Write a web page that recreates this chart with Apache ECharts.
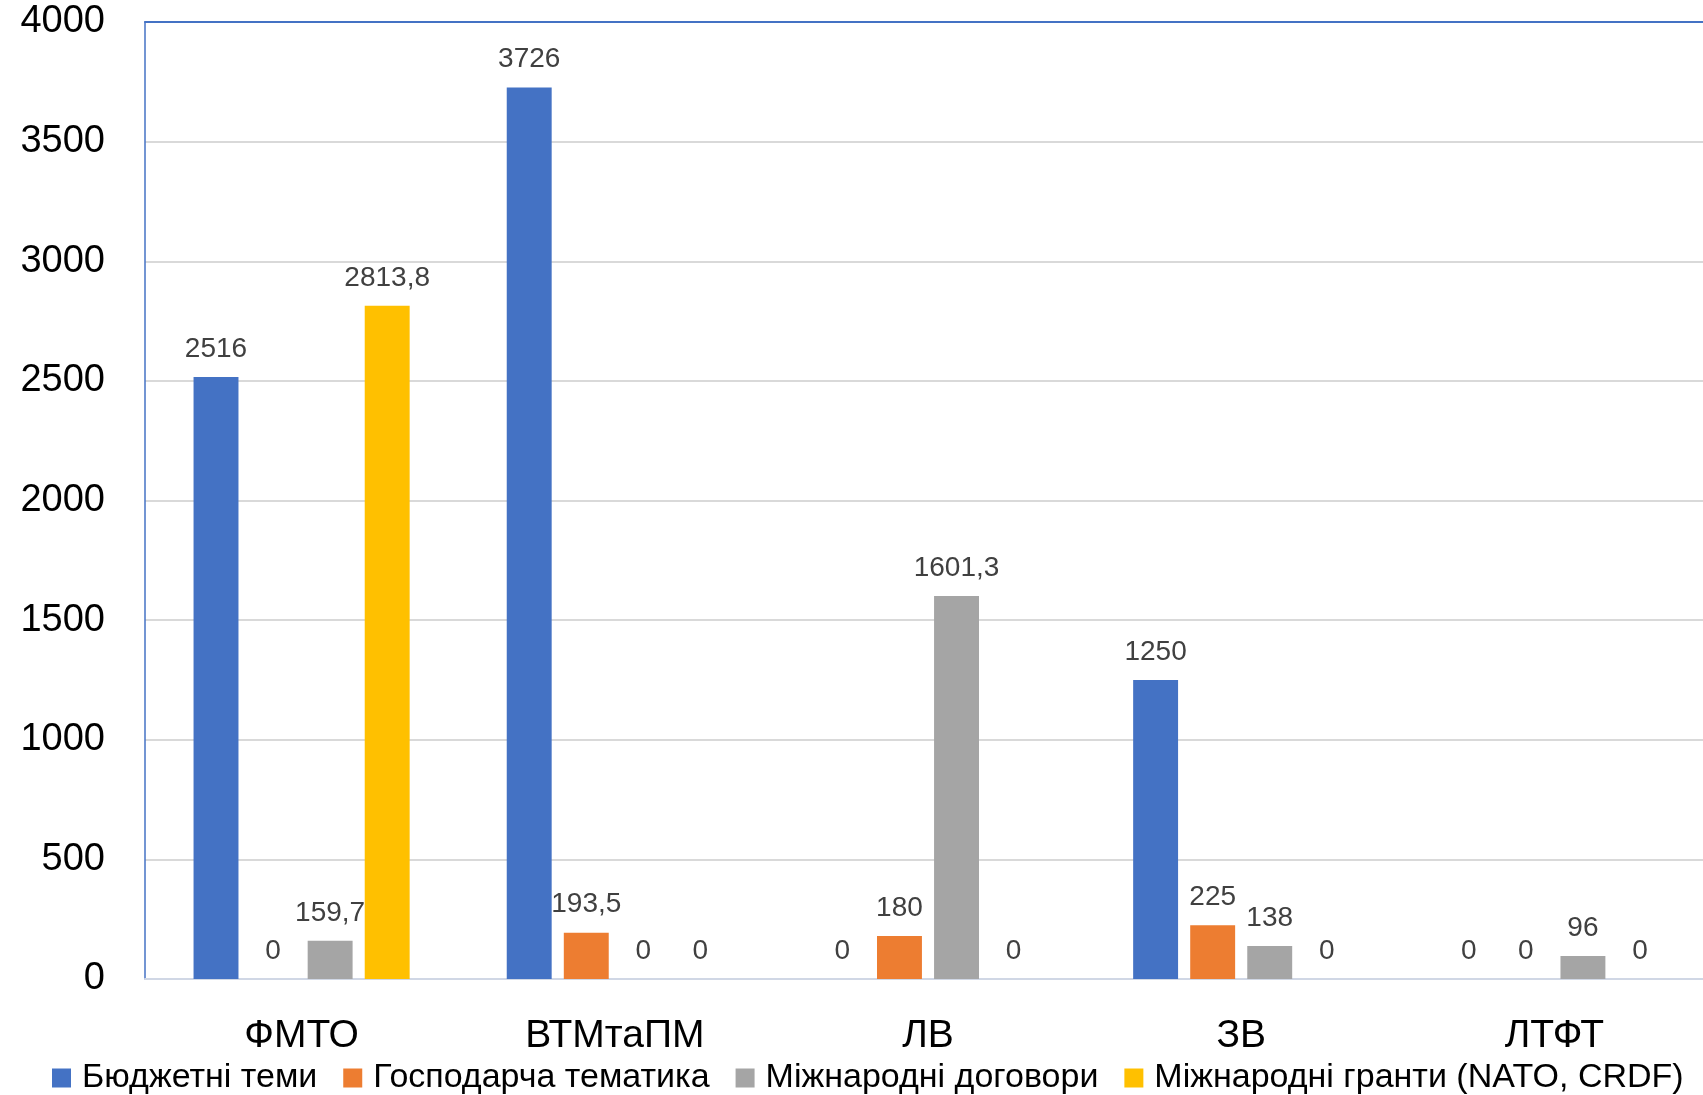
<!DOCTYPE html>
<html>
<head>
<meta charset="utf-8">
<script src="https://cdn.jsdelivr.net/npm/echarts@6/dist/echarts.min.js"></script>
<style>
html,body{margin:0;padding:0;background:#fff;overflow:hidden;}
#chart{width:1711px;height:1095px;}
</style>
</head>
<body>
<div id="chart"></div>
<script>
const categories = ['ФМТО', 'ВТМтаПМ', 'ЛВ', 'ЗВ', 'ЛТФТ'];
const seriesNames = ['Бюджетні теми', 'Господарча тематика', 'Міжнародні договори', 'Міжнародні гранти (NATO, CRDF)'];
const budget = [2516, 3726, 0, 1250, 0];
const commercial = [0, 193.5, 180, 225, 0];
const intlContracts = [159.7, 0, 1601.3, 138, 96];
const intlGrants = [2813.8, 0, 0, 0, 0];
const colors = ['#4472C4', '#ED7D31', '#A5A5A5', '#FFC000'];
const yTicks = {min: 0, max: 4000, interval: 500};

const FONT = 'Liberation Sans, Arial, sans-serif';
const dataSets = [budget, commercial, intlContracts, intlGrants];

const chart = echarts.init(document.getElementById('chart'));
chart.setOption({
  animation: false,
  backgroundColor: '#fff',
  grid: {left: 145, top: 22, right: 0, bottom: 116},
  legend: {
    data: seriesNames,
    left: 47,
    top: 1056,
    itemWidth: 19,
    itemHeight: 19,
    itemGap: 26,
    icon: 'rect',
    textStyle: {fontFamily: FONT, fontSize: 34, color: '#000', padding: [0, 0, 0, 6]}
  },
  xAxis: [{
    type: 'category',
    data: categories,
    axisLine: {show: true, lineStyle: {color: '#D0D7E5', width: 2}},
    axisTick: {show: false},
    axisLabel: {fontFamily: FONT, fontSize: 39, color: '#000', margin: 38}
  }, {
    type: 'category',
    data: categories,
    position: 'top',
    axisLine: {show: true, lineStyle: {color: '#4472C4', width: 2}},
    axisTick: {show: false},
    axisLabel: {show: false}
  }],
  yAxis: {
    type: 'value',
    min: yTicks.min,
    max: yTicks.max,
    interval: yTicks.interval,
    axisLine: {show: true, lineStyle: {color: '#4472C4', width: 1.5}},
    axisTick: {show: false},
    splitLine: {show: true, lineStyle: {color: '#D9D9D9', width: 2}},
    axisLabel: {fontFamily: FONT, fontSize: 38, color: '#000', margin: 40, formatter: v => String(v)}
  },
  series: seriesNames.map((name, i) => ({
    name: name,
    type: 'bar',
    xAxisIndex: 0,
    data: dataSets[i],
    barCategoryGap: '31%',
    barGap: '27%',
    itemStyle: {color: colors[i]},
    label: {
      show: true,
      position: 'top',
      distance: 14,
      fontFamily: FONT,
      fontSize: 28,
      color: '#404040',
      formatter: p => String(p.value).replace('.', ',')
    }
  }))
});
</script>
</body>
</html>
